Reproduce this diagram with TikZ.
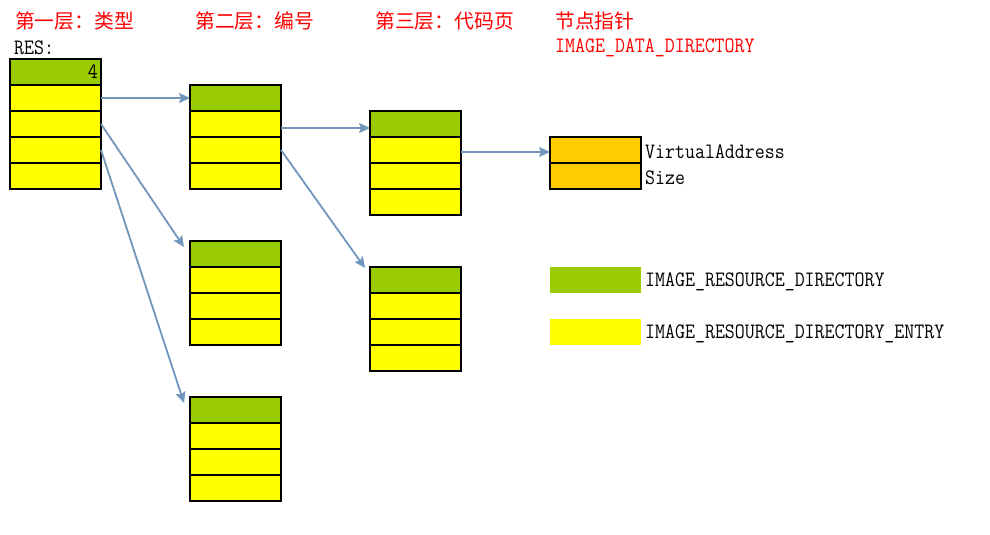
\documentclass[tikz,border=0pt]{standalone}
\usepackage{fontspec}
\newfontfamily\cnfont{Noto Sans CJK SC}
\newfontfamily\monofont[FakeStretch=0.88]{Latin Modern Mono}
\usetikzlibrary{arrows.meta,calc}
\definecolor{hdrgreen}{HTML}{99CC00}
\definecolor{entyellow}{HTML}{FFFF00}
\definecolor{ptrorange}{HTML}{FFCC00}
\definecolor{arrowblue}{HTML}{7096BE}
\begin{document}
\begin{tikzpicture}[x=1pt,y=-1pt,
  cell/.style={draw=black,line width=1.2pt,minimum width=91pt,minimum height=26pt,anchor=north west,inner sep=0pt,outer sep=0pt},
  hdr/.style={cell,fill=hdrgreen},
  ent/.style={cell,fill=entyellow},
  ptr/.style={cell,fill=ptrorange},
  swatch/.style={minimum width=91pt,minimum height=26pt,anchor=north west,inner sep=0pt,outer sep=0pt},
  heading/.style={anchor=west,text=red,font=\cnfont\fontsize{19.8}{23}\selectfont,inner sep=0pt},
  label/.style={anchor=west,font=\monofont\fontsize{22}{26}\selectfont,inner sep=0pt},
  link/.style={draw=arrowblue,line width=1.8pt,-{Stealth[length=11pt,width=10pt,inset=2pt]}}
]
\useasboundingbox (0,0) rectangle (990,535);

% headings
\node[heading] (h1) at (15,21) {第一层：类型};
\node[heading] (h2) at (195,21) {第二层：编号};
\node[heading] (h3) at (375,21) {第三层：代码页};
\node[heading] (h4) at (555,21) {节点指针};
\node[label,text=red] (h5) at (555,48) {IMAGE\_DATA\_DIRECTORY};
\node[label] (res) at (14,48) {RES:};

% level 1
\node[hdr] (a0) at (10,59) {};
\foreach \i in {1,...,4} \node[ent] (a\i) at (10,{59+26*\i}) {};
\node[label,anchor=east] (four) at (98,72) {4};

% level 2
\node[hdr] (b0) at (190,85) {};
\foreach \i in {1,...,3} \node[ent] (b\i) at (190,{85+26*\i}) {};
\node[hdr] (c0) at (190,241) {};
\foreach \i in {1,...,3} \node[ent] (c\i) at (190,{241+26*\i}) {};
\node[hdr] (d0) at (190,397) {};
\foreach \i in {1,...,3} \node[ent] (d\i) at (190,{397+26*\i}) {};

% level 3
\node[hdr] (e0) at (370,111) {};
\foreach \i in {1,...,3} \node[ent] (e\i) at (370,{111+26*\i}) {};
\node[hdr] (f0) at (370,267) {};
\foreach \i in {1,...,3} \node[ent] (f\i) at (370,{267+26*\i}) {};

% data directory
\node[ptr] (g0) at (550,137) {};
\node[ptr] (g1) at (550,163) {};
\node[label] (va) at (645,152) {VirtualAddress};
\node[label] (sz) at (645,178) {Size};

% legend
\node[swatch,fill=hdrgreen] (lg) at (550,267) {};
\node[swatch,fill=entyellow] (ly) at (550,319) {};
\node[label] (lgt) at (645,282) {IMAGE\_RESOURCE\_DIRECTORY};
\node[label] (lyt) at (645,334) {IMAGE\_RESOURCE\_DIRECTORY\_ENTRY};

% connectors
\draw[link] (a1.east) -- (b0.west);
\draw[link] (a2.east) -- ($(c0.north west)+(-6,6)$);
\draw[link] (a3.east) -- ($(d0.north west)+(-6,6)$);
\draw[link] ($(b1.east)+(0,4)$) -- ($(e0.west)+(0,4)$);
\draw[link] (b2.east) -- ($(f0.north west)+(-5,1)$);
\draw[link] ($(e1.east)+(0,2)$) -- ($(g0.west)+(0,2)$);
\end{tikzpicture}
\end{document}
